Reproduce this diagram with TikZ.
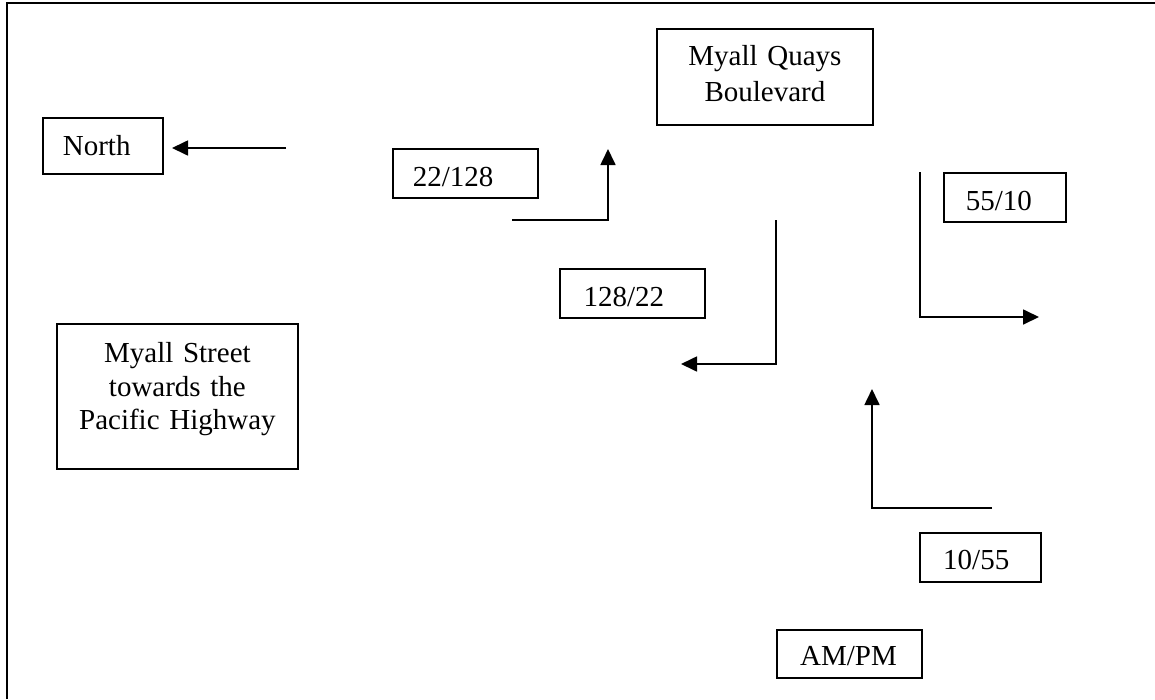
\documentclass[tikz,border=0pt]{standalone}
\usepackage{fontspec}
\setmainfont{Liberation Serif}
\usetikzlibrary{arrows.meta}
\tikzset{
  box/.style={draw, line width=1.8pt, anchor=north west, inner ysep=0pt,
    font=\fontsize{29}{34}\selectfont},
  lbox/.style={box, align=left},
  cbox/.style={box, align=center, inner xsep=0pt},
  conn/.style={line width=1.7pt, -{Triangle[length=16pt,width=15pt]}},
  frame/.style={line width=2.4pt}
}
\begin{document}
\begin{tikzpicture}[x=1pt,y=-1pt]
\useasboundingbox (0,0) rectangle (1155,699);

% page frame (top and left edges)
\draw[frame] (7,699) -- (7,3) -- (1155,3);

% labels
\node[lbox, inner xsep=20pt, text width=80pt, text height=38pt, text depth=18pt]
  (north) at (42,117) {North};
\node[cbox, text width=216pt, text height=37pt, text depth=59pt,
  font=\fontsize{29}{35.7}\selectfont]
  (quays) at (656,28) {Myall Quays\\Boulevard};
\node[cbox, text width=241pt, text height=39pt, text depth=106pt,
  font=\fontsize{29}{33.5}\selectfont]
  (street) at (56,323) {Myall Street\\towards the\\Pacific Highway};
\node[lbox, inner xsep=20pt, text width=105pt, text height=37.7pt, text depth=11.3pt]
  (f22) at (392,148) {22/128};
\node[lbox, inner xsep=23.7pt, text width=97.6pt, text height=37.7pt, text depth=11.3pt]
  (f128) at (559,268) {128/22};
\node[lbox, inner xsep=22pt, text width=78pt, text height=38pt, text depth=11pt]
  (f55) at (943,172) {55/10};
\node[lbox, inner xsep=23.3pt, text width=74.4pt, text height=36.3pt, text depth=12.7pt]
  (f10) at (919,532) {10/55};
\node[lbox, inner xsep=23.3pt, text width=98.4pt, text height=36pt, text depth=12pt]
  (ampm) at (776,629) {AM/PM};

% turning movements
\coordinate (n0) at (286,148);
\coordinate (n1) at (172,148);
\draw[conn] (n0) -- (n1);

\coordinate (a0) at (512,220);
\coordinate (a1) at (608,220);
\coordinate (a2) at (608,149);
\draw[conn] (a0) -- (a1) -- (a2);

\coordinate (b0) at (776,220);
\coordinate (b1) at (776,364);
\coordinate (b2) at (681,364);
\draw[conn] (b0) -- (b1) -- (b2);

\coordinate (c0) at (920,172);
\coordinate (c1) at (920,317);
\coordinate (c2) at (1039,317);
\draw[conn] (c0) -- (c1) -- (c2);

\coordinate (d0) at (992,508);
\coordinate (d1) at (872,508);
\coordinate (d2) at (872,389);
\draw[conn] (d0) -- (d1) -- (d2);
\end{tikzpicture}
\end{document}
